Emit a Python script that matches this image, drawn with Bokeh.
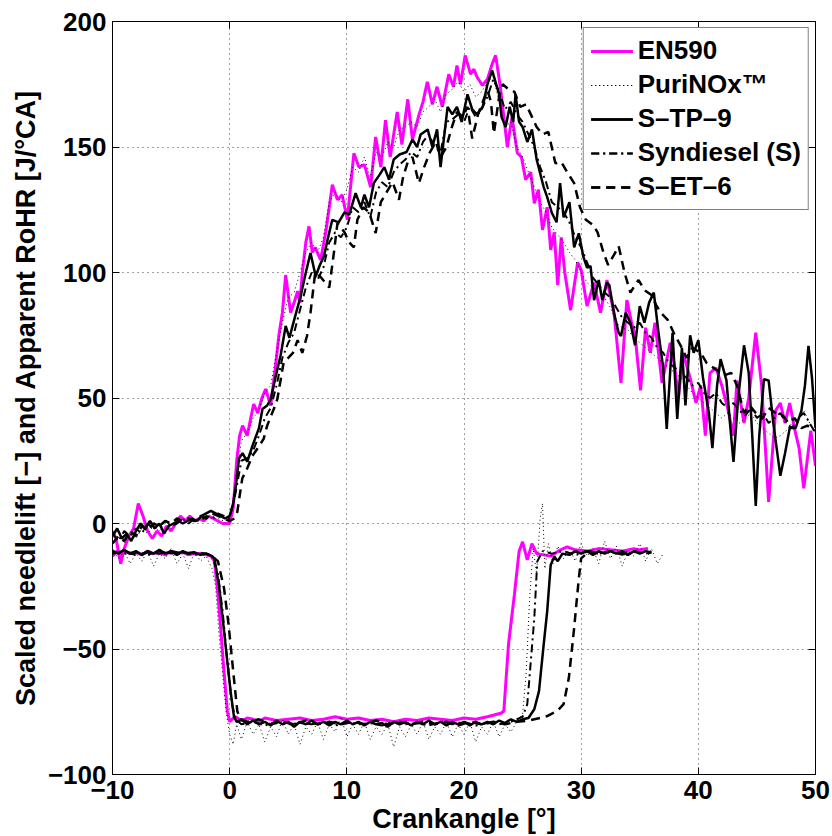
from bokeh.plotting import figure
from bokeh.models import Range1d, FixedTicker, LinearAxis
from bokeh.embed import file_html
from bokeh.resources import INLINE

# ---------------- data ----------------
series_names = ["EN590", "PuriNOx\u2122", "S\u2013TP\u20139", "Syndiesel (S)", "S\u2013ET\u20136"]

# EN590 apparent RoHR
en590_rohr_x = [-10, -9.7, -9.3, -9.0, -8.6, -8.2, -7.8, -7.4, -7.0, -6.6, -6.2, -5.8, -5.4, -5.0, -4.6, -4.2,
                -3.8, -3.4, -3.0, -2.6, -2.2, -1.8, -1.4, -1.0, -0.6, -0.3, 0.0, 0.3, 0.6, 0.85, 1.1, 1.5, 1.8,
                2.05, 2.4, 2.75, 3.07, 3.5, 3.9, 4.2, 4.5, 4.78, 5.2, 5.5, 5.8, 6.0, 6.2, 6.5, 6.77, 7.05, 7.3,
                7.76, 8.2, 8.5, 8.76, 9.2, 9.6, 10.04, 10.6, 11.03, 11.5, 12.03, 12.46, 12.9, 13.3, 13.7, 14.3,
                14.7, 15.2, 15.6, 16.15, 16.5, 16.87, 17.3, 17.7, 18.15, 18.7, 19.1, 19.4, 19.7, 20.1, 20.56,
                20.85, 21.1, 21.56, 22.0, 22.4, 22.7, 23.1, 23.4, 23.7, 24.1, 24.55, 24.9, 25.26, 25.7, 26.0,
                26.35, 26.7, 27.1, 27.4, 27.7, 28.0, 28.3, 28.6, 29.1, 29.7, 30.0, 30.5, 31.1, 31.65, 32.2, 32.8,
                33.4, 33.9, 34.3, 34.6, 35.07, 35.5, 35.9, 36.3, 36.9, 37.6, 38.0, 38.3, 38.7, 39.3, 39.8, 40.2,
                40.6, 41.0, 41.5, 42.0, 42.5, 43.0, 43.3, 43.9, 44.3, 44.9, 45.4, 46.0, 46.6, 47.0, 47.4, 47.8,
                48.2, 48.6, 49.0, 49.6, 50.0]
en590_rohr_y = [-3, -6, -16, -10, -5, -2, 8, 3, -3, -6, -3, -5, -1, -3, 0, 3,
                1, 3, 1, 2, 1, 3, 2, 1, 0, 0, 0, 6, 25, 35, 39, 35, 42,
                47.6, 44, 50, 53.6, 47, 62, 75, 84, 99, 84, 88, 92.6, 88, 100, 112, 118.4, 108, 110,
                105, 116, 126, 135, 129, 131, 121, 147.5, 142, 143, 134, 154, 142, 160.7, 146, 164,
                151, 169, 153, 162.7, 168, 176, 167, 174, 166, 179, 174, 182.5, 175, 186.5, 179,
                181, 178, 174.6, 177, 183, 186.5, 174, 162, 150, 162, 147.6, 146, 137, 140, 127.6,
                133, 117, 126, 109, 116, 95, 114, 100, 85, 104, 101, 86.6, 96, 84, 97, 84,
                56, 89, 80, 75, 53, 78, 68, 80, 56, 72, 62, 50, 68, 58, 48, 55,
                35, 60, 62, 55, 46, 35, 57, 40, 50, 76, 55, 8.6, 45, 48, 40, 48,
                38, 30, 14, 37, 23]

# EN590 scaled needle lift
en590_nl_x = [-10, -9.6, -9.3, -9.0, -8.5, -8.0, -7.5, -7.0, -6.5, -6.0, -5.5, -5.0, -4.5, -4.0, -3.5, -3.0,
              -2.5, -2.0, -1.6, -1.3, -1.0, -0.77, -0.5, -0.2, 0.0, 0.2, 0.5, 1, 1.5, 2, 2.5, 3, 4, 5, 6, 7, 8,
              9, 10, 11, 12, 13, 14, 15, 16, 17, 18, 19, 20, 21, 22, 22.8, 23.2, 23.4, 23.8, 24.3, 24.7, 25.0,
              25.4, 25.8, 26.2, 26.8, 27.4, 28.2, 28.8, 29.5, 30.5, 31.5, 32.5, 33.5, 34.5, 35.0, 35.7]
en590_nl_y = [-13, -11, -12, -11, -12, -11.5, -12.5, -11, -12, -11.5, -12.5, -11, -12, -11.5, -12.5, -12,
              -12, -12.5, -13, -15, -28, -41.7, -58, -74.7, -79, -78, -77, -78.5, -77.5, -78, -79, -77.5, -78.5,
              -78, -77.5, -78.5, -78, -77, -78, -77.5, -78.5, -78, -79, -78, -78.5, -77.5, -78, -78.5, -77.5,
              -78, -77, -76, -75.5, -74.7, -48, -28.4, -11.2, -7.3, -14.5, -8, -12, -12.5, -13, -10.6, -9.3,
              -10.5, -11, -10, -10.5, -11, -10, -10.5, -10]

# PuriNOx apparent RoHR
puri_rohr_x = [-10, -9.5, -9, -8.5, -8, -7.5, -7, -6.5, -6, -5.5, -5, -4.5, -4, -3.5, -3, -2.5, -2, -1.5, -1,
               -0.5, 0, 0.5, 1.0, 1.5, 2.0, 2.5, 3.0, 3.5, 4.0, 4.5, 5.0, 5.5, 6.0, 6.5, 7.0, 7.5, 8.0, 8.5, 9.0,
               9.5, 10.0, 10.5, 11.0, 11.5, 12.0, 12.5, 13.0, 13.5, 14.0, 14.5, 15.0, 15.5, 16.0, 16.5, 17.0,
               17.5, 18.0, 18.5, 19.0, 19.5, 20.0, 20.5, 21.0, 21.5, 22.0, 22.5, 23.0, 23.5, 24.0, 24.5, 25.0,
               25.5, 26.0, 26.5, 27.0, 27.5, 28.0, 28.5, 29.0, 29.5, 30.0, 30.5, 31.0, 31.5, 32.0, 32.5, 33.0,
               33.5, 34.0, 34.5, 35.0, 35.5, 36.0, 36.5, 37.0, 37.5, 38.0, 38.5, 39.0, 39.5, 40.0, 40.5, 41.0,
               41.5, 42.0, 42.5, 43.0, 43.5, 44.0, 44.5, 45.0, 45.5, 46.0, 46.5, 47.0, 47.5, 48.0, 48.5, 49.0,
               49.5, 50.0]
puri_rohr_y = [-6, -3, -8, -4, -6, -2, -4, -1, -3, 0, -2, 1, 0, 2, 1, 2, 3, 2, 2,
               1, 2, 15, 33, 36, 42, 45, 52, 55, 68, 80, 90, 92, 100, 108, 112, 108, 114, 128, 132,
               128, 133, 142, 140, 146, 138, 148, 146, 152, 150, 157, 158, 160, 158, 164, 166,
               169, 164, 171, 173, 176, 172, 175, 170, 172, 176, 178, 168, 158, 160, 150, 146,
               140, 134, 128, 124, 118, 115, 112, 108, 105, 100, 96, 94, 92, 90, 86, 80,
               78, 77, 74, 72, 70, 68, 66, 64, 62, 60, 58, 55, 52, 50, 48, 46,
               44, 42, 44, 42, 40, 42, 44, 40, 38, 36, 34, 35, 37, 40, 42, 45,
               40, 36]

# PuriNOx scaled needle lift
puri_nl_x = [-10, -9.5, -9, -8.5, -8, -7.5, -7, -6.5, -6, -5.5, -5, -4.5, -4, -3.5, -3, -2.5, -2, -1.5, -1.2,
             -0.9, -0.6, -0.3, 0, 0.3, 0.6, 1, 1.5, 2, 2.5, 3, 3.5, 4, 4.5, 5, 5.5, 6, 6.5, 7, 7.5, 8, 8.5, 9,
             9.5, 10, 10.5, 11, 11.5, 12, 12.5, 13, 13.5, 14, 14.5, 15, 15.5, 16, 16.5, 17, 17.5, 18, 18.5, 19,
             19.5, 20, 20.5, 21, 21.5, 22, 22.5, 23, 23.5, 24, 24.5, 25, 25.3, 25.6, 25.9, 26.2, 26.5, 26.7,
             26.9, 27.2, 27.6, 28, 28.5, 29, 29.5, 30, 30.5, 31, 31.5, 32, 32.5, 33, 33.5, 34, 34.5, 35, 35.5,
             36, 36.5, 37]
puri_nl_y = [-10, -14, -11, -16, -12, -15, -11, -17, -12, -14, -10, -16, -12, -18, -11, -15, -13, -18, -25,
             -45, -60, -75, -84, -88, -80, -86, -79, -84, -80, -87, -81, -85, -78, -84, -80, -88, -81, -84, -79,
             -86, -80, -83, -77, -85, -80, -84, -79, -86, -81, -84, -80, -89, -81, -85, -80, -84, -79, -86,
             -81, -84, -79, -85, -80, -84, -79, -87, -81, -84, -79, -85, -80, -83, -79, -76, -60, -30, -10,
             -20, 2, 8, -18, -8, -16, -9, -14, -10, -15, -8, -13, -10, -16, -7, -14, -9, -17, -11, -13, -8,
             -15, -10, -16, -12]

# S-TP-9 apparent RoHR
stp_rohr_x = [-10, -9.6, -9.2, -8.8, -8.4, -8.0, -7.6, -7.2, -6.8, -6.4, -6.0, -5.6, -5.2, -4.8, -4.4, -4.0,
              -3.6, -3.2, -2.8, -2.4, -2.0, -1.6, -1.2, -0.8, -0.4, 0.0, 0.3, 0.5, 0.8, 1.1, 1.5, 1.95, 2.5,
              2.8, 3.2, 3.5, 3.9, 4.35, 4.78, 5.1, 5.5, 6.06, 6.5, 6.9, 7.34, 7.7, 8.05, 8.4, 8.76, 9.3, 9.8,
              10.2, 10.75, 11.2, 11.5, 11.9, 12.3, 12.8, 13.2, 13.6, 14.0, 14.5, 15.1, 15.6, 16.0, 16.3, 16.9,
              17.3, 17.7, 18.0, 18.6, 19.0, 19.4, 19.8, 20.3, 20.7, 21.1, 21.6, 22.0, 22.4, 23.0, 23.2, 23.55,
              23.9, 24.2, 24.4, 24.7, 25.0, 25.4, 25.8, 26.2, 26.8, 27.1, 27.5, 27.9, 28.2, 28.5, 29.0, 29.4,
              29.8, 30.2, 30.5, 30.8, 31.1, 31.5, 31.8, 32.2, 32.4, 32.8, 33.2, 33.4, 33.8, 34.2, 34.6, 35.0,
              35.4, 35.8, 36.2, 36.6, 37.0, 37.3, 37.8, 38.2, 38.6, 38.9, 39.3, 39.6, 40.0, 40.4, 40.9, 41.2,
              41.6, 41.9, 42.4, 42.7, 43.0, 43.4, 43.9, 44.3, 44.6, 44.9, 45.2, 45.6, 46.0, 46.4, 47.0, 47.4,
              47.8, 48.3, 48.8, 49.1, 49.4, 49.7, 50.0]
stp_rohr_y = [-5, -2, -6, -4, -7, -3, 0, -2, 1, -2, 0, -4, -1, 0, 1, 0,
              1, 2, 1, 3, 4, 5, 4, 3, 2, 3, 8, 14, 26, 28, 24.6, 31, 38,
              45.6, 47, 49.6, 58, 67, 78.7, 74, 81, 90.6, 100, 107.8, 98.5, 103, 106.5, 114, 121, 120, 124,
              123, 131.6, 126, 131, 126, 135.6, 139, 142, 137, 145, 147, 148, 153, 150, 155, 157,
              150, 157, 142, 166, 163, 166, 160, 171, 165, 163, 166, 175, 180.5, 171, 162, 158,
              166, 160, 171, 160, 158, 152, 157, 145, 134, 130, 123.7, 120, 135.6, 122, 128, 110,
              115.6, 106, 102, 102.5, 89, 97, 89, 96, 95, 84, 76, 74.7, 84, 80, 71, 86.6,
              80, 88, 92, 76, 62, 37.7, 76, 41.7, 70, 47, 75, 68, 73, 58, 44, 30,
              55, 65.5, 57, 40, 24.5, 50, 71, 60, 35, 7, 35, 57.5, 57, 40, 19, 28,
              38, 38, 45, 55, 70.8, 58, 38]

# S-TP-9 scaled needle lift
stp_nl_x = [-10, -9.5, -9, -8.5, -8, -7.5, -7, -6.5, -6, -5.5, -5, -4.5, -4, -3.5, -3, -2.5, -2, -1.5, -1.3,
            -0.9, -0.6, -0.2, 0.08, 0.37, 0.6, 1, 1.5, 2, 2.5, 3, 3.5, 4, 4.5, 5, 5.5, 6, 6.5, 7, 7.5, 8, 8.5,
            9, 9.5, 10, 10.5, 11, 11.5, 12, 12.5, 13, 13.5, 14, 14.5, 15, 15.5, 16, 16.5, 17, 17.5, 18, 18.5,
            19, 19.5, 20, 20.5, 21, 21.5, 22, 22.5, 23, 23.5, 24, 24.5, 25, 25.5, 26, 26.4, 26.8, 27.1, 27.4,
            27.7, 28.0, 28.4, 29, 29.5, 30, 30.5, 31, 31.5, 32, 32.5, 33, 33.5, 34, 34.5, 35, 35.5, 36]
stp_nl_y = [-11, -12, -10.5, -12, -11, -12.5, -11, -12, -10.5, -12, -11, -12.5, -11, -12, -11.5, -12.5, -12,
            -13, -14, -25, -37.7, -55, -67, -77, -79, -78, -80, -78.5, -80, -79, -80.5, -78.5, -80, -79, -81,
            -79, -80, -78.5, -80, -79, -80.5, -79, -80, -78.5, -80, -79, -80.5, -79, -80, -79.5, -81, -79,
            -80, -79, -80.5, -79, -80, -78.5, -80, -79, -80.5, -79, -80, -79, -80.5, -79, -80, -79, -80,
            -78.5, -79.5, -78, -79, -78, -77.5, -74, -66.8, -48.3, -35, -16.5, -13.2, -15, -12, -12.5, -11,
            -12, -11, -12.5, -11, -12, -11, -12, -11, -12.5, -11, -12, -11, -11.5]

# Syndiesel (S) apparent RoHR
syn_rohr_x = puri_rohr_x
syn_rohr_y = [-4, -7, -3, -5, -2, -4, 0, -2, -1, 1, -1, 0, 2, 0, 2, 1, 3, 2, 4,
              3, 2, 12, 25, 26, 29, 35, 42, 46, 55, 66, 72, 76, 85, 94, 100, 97, 102, 112, 116,
              114, 118, 126, 124, 128, 122, 132, 136, 134, 140, 143, 145, 148, 146, 152, 155,
              150, 148, 160, 161, 163, 160, 166, 162, 165, 170, 177, 172, 165, 168, 163, 160,
              155, 150, 142, 136, 128, 126, 124, 120, 114, 110, 104, 98, 95, 92, 90, 86,
              82, 80, 78, 80, 76, 74, 70, 68, 64, 62, 60, 58, 55, 56, 52, 50,
              52, 48, 46, 48, 45, 43, 46, 42, 44, 40, 42, 44, 40, 38, 42, 44,
              40, 36]

# Syndiesel (S) scaled needle lift
syn_nl_x = [-10, -9, -8, -7, -6, -5, -4, -3, -2, -1.5, -1.0, -0.6, -0.2, 0.2, 0.5, 1, 2, 3, 4, 5, 6, 7, 8, 9,
            10, 11, 12, 13, 14, 15, 16, 17, 18, 19, 20, 21, 22, 23, 24, 25, 25.4, 25.7, 26.0, 26.25, 26.7,
            27.5, 28.5, 29.5, 30.5, 31.5, 32.5, 33.5, 34.5, 35.5, 36]
syn_nl_y = [-11, -12, -11.5, -12.5, -11, -12, -11.5, -12.5, -12, -13, -20, -35, -55, -72, -78, -80, -79, -80.5,
            -79, -80, -79.5, -80, -79, -80.5, -79, -80, -79.5, -80.5, -79, -80, -79.5, -80.5, -79, -80, -79,
            -80.5, -79.5, -80, -79, -77, -72, -55, -37.7, -15.2, -11, -12, -11, -12.5, -11, -12, -11, -12.5,
            -11, -12, -11.5]

# S-ET-6 apparent RoHR
set_rohr_x = [-10, -9.5, -9.0, -8.5, -8.0, -7.5, -7.0, -6.5, -6.0, -5.5, -5.0, -4.5, -4.0, -3.5, -3.0, -2.5,
              -2.0, -1.5, -1.0, -0.5, 0.0, 0.4, 0.65, 0.85, 1.08, 1.5, 1.94, 2.4, 2.9, 3.2, 3.8, 4.07, 4.6,
              5.0, 5.4, 5.8, 6.2, 6.6, 6.9, 7.3, 7.8, 8.5, 8.9, 9.2, 9.8, 10.2, 10.6, 10.9, 11.4, 11.9, 12.46,
              12.9, 13.4, 13.9, 14.45, 14.8, 15.2, 15.6, 16.15, 16.6, 17.1, 17.6, 18.0, 18.5, 18.9, 19.4,
              19.9, 20.3, 20.7, 21.2, 21.6, 22.0, 22.3, 22.55, 23.0, 23.3, 23.8, 24.3, 24.8, 25.3, 25.8, 26.2,
              26.7, 27.2, 27.8, 28.3, 28.8, 29.4, 29.9, 30.4, 31.0, 31.4, 31.9, 32.3, 32.8, 33.2, 33.7, 34.2,
              34.6, 34.9, 35.4, 36.0, 36.4, 36.8, 37.4, 38.0, 38.5, 39.0, 39.5, 40.2, 40.7, 41.3, 42.2, 42.8,
              43.3, 43.9, 44.4, 44.9, 45.45, 46.0, 46.6, 47.2, 47.7, 48.2, 48.8, 49.3, 50.0]
set_rohr_y = [-8, -5, -7, -3, -5, -1, -3, 0, -1, 1, 0, 2, 1, 2, 1, 3,
              2, 4, 3, 2, 1, 2, 4.6, 11, 18, 22, 27, 30, 33.7, 39, 46, 49.6, 64,
              66, 68, 73, 68, 74.7, 84, 100, 98, 94, 108, 119.7, 116, 112, 110, 121, 126, 124, 115.7,
              128, 132, 136, 129, 138, 144, 146, 135.6, 142, 148, 152, 146, 150, 157, 164,
              162, 166, 153.4, 163, 168, 172.6, 168, 155.4, 170, 175, 173, 172, 166, 167, 162, 158,
              155, 156, 143.5, 144, 140, 135.6, 126, 121, 119, 116, 108, 103, 107, 110.5, 100, 92,
              95, 97, 93, 91, 87, 84, 81, 75, 70.8, 66, 70, 68, 64, 62, 59, 60,
              55, 44, 47, 44, 41.7, 46, 44, 43, 40, 42, 38, 39, 37]

# S-ET-6 scaled needle lift
set_nl_x = [-10, -9, -8, -7, -6, -5, -4, -3, -2, -1.5, -1.0, -0.48, -0.1, 0.37, 0.65, 0.9, 1.5, 2.5, 3.5, 4.5,
            5.5, 6.5, 7.5, 8.5, 9.5, 10.5, 11.5, 12.5, 13.5, 14.5, 15.5, 16.5, 17.5, 18.5, 19.5, 20.5, 21.5,
            22.5, 23.5, 24.5, 25.5, 26.5, 27.1, 27.96, 28.5, 28.95, 29.4, 29.8, 30.0, 30.7, 31.5, 32.5, 33.5,
            34.5, 35.5, 36]
set_nl_y = [-12, -11, -12.5, -11.5, -12, -11, -12, -11.5, -12, -13, -15, -25.8, -40, -62, -74.7, -78, -79, -78,
            -80, -79, -80, -78.5, -80, -79, -80, -79, -80, -78.5, -80, -79, -80, -79, -80, -79, -80.5, -79,
            -80, -79, -80, -79, -78.5, -77.5, -76.7, -74.7, -72, -61.5, -41.7, -21.8, -13.9, -11, -12, -11,
            -12, -11, -12, -11.5]

x_ticks = [-10, 0, 10, 20, 30, 40, 50]
y_ticks = [-100, -50, 0, 50, 100, 150, 200]
x_label = "Crankangle [\u00b0]"
y_label = "Scaled needlelift [\u2212] and Apparent RoHR [J/\u00b0CA]"

# ---------------- figure ----------------
FONT = "Liberation Sans"
p = figure(width=832, height=836, output_backend="svg", toolbar_location=None,
           x_range=Range1d(-10, 50), y_range=Range1d(-100, 200),
           min_border_left=112, min_border_right=17, min_border_top=21, min_border_bottom=62,
           x_axis_label=x_label, y_axis_label=y_label)
p.background_fill_color = "white"
p.border_fill_color = "white"
p.outline_line_color = "black"
p.outline_line_width = 1

minus = "\u2212"
def fmt_over(ticks):
    return {t: (minus + str(abs(t)) if t < 0 else str(t)) for t in ticks}

for ax, ticks in ((p.xaxis[0], x_ticks), (p.yaxis[0], y_ticks)):
    ax.ticker = FixedTicker(ticks=ticks)
    ax.major_label_overrides = fmt_over(ticks)
    ax.major_label_text_font = FONT
    ax.major_label_text_font_style = "bold"
    ax.major_label_text_font_size = "26px"
    ax.major_label_text_color = "black"
    ax.axis_label_text_font = FONT
    ax.axis_label_text_font_style = "bold"
    ax.axis_label_text_font_size = "27px"
    ax.axis_label_text_color = "black"
    ax.major_tick_in = 7
    ax.major_tick_out = 0
    ax.minor_tick_line_color = None
    ax.axis_line_color = "black"
    ax.major_tick_line_color = "black"

p.xaxis[0].major_label_standoff = 6
p.xaxis[0].axis_label_standoff = 2
p.yaxis[0].major_label_standoff = 6
p.yaxis[0].axis_label_standoff = 4

# box ticks on the top and right edges (no labels there)
for loc, ticks in (("above", x_ticks), ("right", y_ticks)):
    ax = LinearAxis(ticker=FixedTicker(ticks=ticks))
    ax.major_label_text_font_size = "1px"
    ax.major_label_text_color = None
    ax.major_label_standoff = 0
    ax.major_tick_in = 7
    ax.major_tick_out = 0
    ax.minor_tick_line_color = None
    ax.axis_line_color = "black"
    ax.major_tick_line_color = "black"
    p.add_layout(ax, loc)

p.xgrid.ticker = FixedTicker(ticks=x_ticks)
p.ygrid.ticker = FixedTicker(ticks=y_ticks)
for g in (p.xgrid[0], p.ygrid[0]):
    g.grid_line_color = "#404040"
    g.grid_line_dash = "1 4"
    g.grid_line_width = 1

styles = [
    dict(line_color="#FF00FF", line_width=3),
    dict(line_color="black", line_width=1, line_dash="1 3"),
    dict(line_color="black", line_width=2.5),
    dict(line_color="black", line_width=2, line_dash="8 4 2 4"),
    dict(line_color="black", line_width=2.5, line_dash="9 6"),
]
data = [
    (en590_rohr_x, en590_rohr_y, en590_nl_x, en590_nl_y),
    (puri_rohr_x, puri_rohr_y, puri_nl_x, puri_nl_y),
    (stp_rohr_x, stp_rohr_y, stp_nl_x, stp_nl_y),
    (syn_rohr_x, syn_rohr_y, syn_nl_x, syn_nl_y),
    (set_rohr_x, set_rohr_y, set_nl_x, set_nl_y),
]
for name, st, (rx, ry, nx, ny) in zip(series_names, styles, data):
    p.line(rx, ry, legend_label=name, **st)
    p.line(nx, ny, legend_label=name, **st)

lg = p.legend[0]
lg.location = "top_right"
lg.margin = 6
lg.padding = 7
lg.spacing = 3
lg.glyph_width = 42
lg.label_standoff = 5
lg.label_text_font = FONT
lg.label_text_font_style = "bold"
lg.label_text_font_size = "26px"
lg.label_text_color = "black"
lg.border_line_color = "black"
lg.border_line_width = 1
lg.background_fill_color = "white"
lg.background_fill_alpha = 1.0

open("out.html", "w").write(file_html(p, INLINE))
